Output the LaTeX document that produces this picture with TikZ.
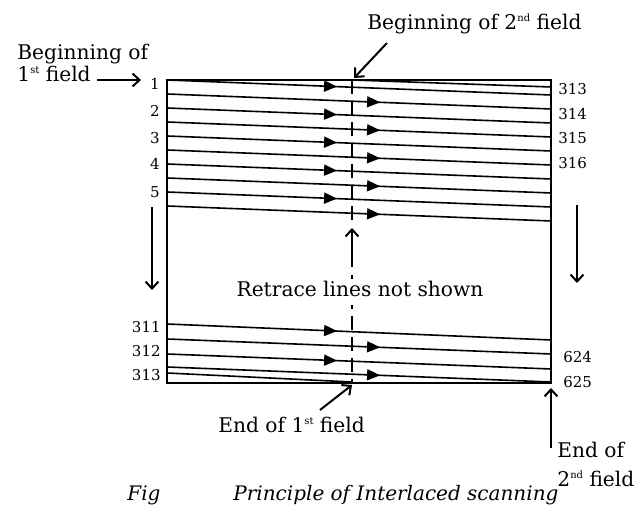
\documentclass[tikz,border=0pt]{standalone}
\usepackage{fontspec}
\setmainfont{DejaVu Serif}
\usetikzlibrary{arrows.meta,decorations.markings}

% small raised ordinal suffix (1st, 2nd)
\newcommand\ordsup[1]{\raisebox{0.85ex}{\fontsize{5}{6}\selectfont #1}}

\tikzset{
  frame/.style={line width=1.1pt},
  scanline/.style={line width=0.8pt},
  firstfield/.style={scanline, postaction={decorate},
    decoration={markings, mark=at position 0.443 with {\arrow{Triangle[length=6.5pt,width=5.5pt]}}}},
  secondfield/.style={scanline, postaction={decorate},
    decoration={markings, mark=at position 0.555 with {\arrow{Triangle[length=6.5pt,width=5.5pt]}}}},
  pointer/.style={line width=1pt, -{Straight Barb[length=3.5pt,width=6.5pt]}},
  dividerline/.style={line width=1.1pt, dash pattern=on 7pt off 3.5pt},
  lbl/.style={inner sep=0pt, font=\fontsize{10.1}{12}\selectfont},
  num/.style={inner sep=0pt, font=\fontsize{7.5}{9}\selectfont},
  caption/.style={inner sep=0pt, font=\fontsize{10}{12}\selectfont\itshape},
}

\begin{document}
\begin{tikzpicture}[x=0.5pt, y=-0.5pt]
\useasboundingbox (0,0) rectangle (638,506);
\fill[white] (0,0) rectangle (638,506);

% raster frame
\coordinate (tl) at (167,80);
\coordinate (br) at (551,383);
\coordinate (tm) at (352,80);
\coordinate (bm) at (352,383);

% upper scan lines: even index = 1st field, odd index = 2nd field
\foreach \k in {0,2,...,8}{
  \coordinate (L\k) at (167,{80+14*\k});
  \coordinate (R\k) at (551,{95+14*\k});
  \draw[firstfield] (L\k) -- (R\k);
}
\foreach \k in {1,3,...,9}{
  \coordinate (L\k) at (167,{80+14*\k});
  \coordinate (R\k) at (551,{95+14*\k});
  \draw[secondfield] (L\k) -- (R\k);
}
% first half line of the 2nd field
\coordinate (hr) at (551,87);
\draw[scanline] (tm) -- (hr);

% lower scan lines
\coordinate (b1l) at (167,324); \coordinate (b1r) at (551,340);
\coordinate (b2l) at (167,339); \coordinate (b2r) at (551,354);
\coordinate (b3l) at (167,354); \coordinate (b3r) at (551,369);
\coordinate (b4l) at (167,367); \coordinate (b4r) at (551,382);
\coordinate (b5l) at (167,373); \coordinate (b5r) at (352,382);
\draw[firstfield] (b1l) -- (b1r);
\draw[secondfield] (b2l) -- (b2r);
\draw[firstfield] (b3l) -- (b3r);
\draw[secondfield] (b4l) -- (b4r);
\draw[scanline] (b5l) -- (b5r);

\draw[frame] (tl) rectangle (br);

% field divider
\coordinate (d1) at (352,222);
\coordinate (d2) at (352,267);
\coordinate (d3) at (352,228);
\coordinate (d4) at (352,316);
\draw[dividerline] (tm) -- (d1);
\draw[pointer] (d2) -- (d3);
\draw[line width=1pt] (352,275) -- (352,279);
\draw[line width=1pt] (352,305) -- (352,309);
\draw[dividerline] (d4) -- (bm);

% line numbers
\node[num, anchor=east] (n1) at (160,84) {1};
\node[num, anchor=east] (n2) at (160,111) {2};
\node[num, anchor=east] (n3) at (160,138) {3};
\node[num, anchor=east] (n4) at (160,164) {4};
\node[num, anchor=east] (n5) at (160,192) {5};
\node[num, anchor=west] (n313r) at (558,89) {313};
\node[num, anchor=west] (n314) at (558,114) {314};
\node[num, anchor=west] (n315) at (558,138) {315};
\node[num, anchor=west] (n316) at (558,163) {316};
\node[num, anchor=east] (n311) at (161,327) {311};
\node[num, anchor=east] (n312) at (161,351) {312};
\node[num, anchor=east] (n313l) at (161,375) {313};
\node[num, anchor=west] (n624) at (563,357) {624};
\node[num, anchor=west] (n625) at (563,382) {625};

% labels
\node[lbl, anchor=base west] (beg1a) at (17,60) {Beginning of};
\node[lbl, anchor=base west] (beg1b) at (17,82) {1\ordsup{st} field};
\node[lbl, anchor=base west] (beg2) at (367,30) {Beginning of 2\ordsup{nd} field};
\node[lbl, anchor=base] (retrace) at (360,297) {Retrace lines not shown};
\node[lbl, anchor=base west] (end1) at (218,433) {End of 1\ordsup{st} field};
\node[lbl, anchor=base west] (end2a) at (557,458) {End of};
\node[lbl, anchor=base west] (end2b) at (557,487) {2\ordsup{nd} field};
\node[caption, anchor=base west] (figlbl) at (127,501) {Fig};
\node[caption, anchor=base west] (figttl) at (233,501) {Principle of Interlaced scanning};

% pointers
\coordinate (p1a) at (97,80);  \coordinate (p1b) at (141,80);
\coordinate (p2a) at (387,43); \coordinate (p2b) at (354,78);
\coordinate (p3a) at (320,410); \coordinate (p3b) at (352,385);
\coordinate (p4a) at (551,448); \coordinate (p4b) at (551,388);
\coordinate (p5a) at (152,207); \coordinate (p5b) at (152,290);
\coordinate (p6a) at (577,205); \coordinate (p6b) at (577,283);
\draw[pointer] (p1a) -- (p1b);
\draw[pointer] (p2a) -- (p2b);
\draw[pointer] (p3a) -- (p3b);
\draw[pointer] (p4a) -- (p4b);
\draw[pointer] (p5a) -- (p5b);
\draw[pointer] (p6a) -- (p6b);
\end{tikzpicture}
\end{document}
